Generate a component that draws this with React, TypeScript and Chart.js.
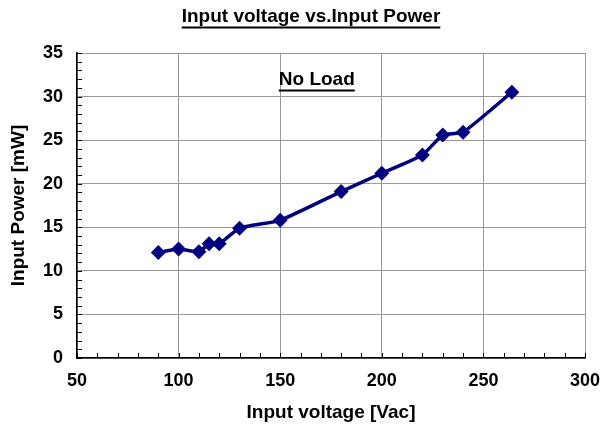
import React, { useEffect, useRef } from "react";
import { Chart, registerables } from "chart.js";

Chart.register(...registerables);

const chartTitle = "Input voltage vs.Input Power";
const annotationText = "No Load";
const xTitle = "Input voltage [Vac]";
const yTitle = "Input Power [mW]";
const voltages = [90, 100, 110, 115, 120, 130, 150, 180, 200, 220, 230, 240, 264];
const powers = [12.1, 12.5, 12.2, 13.1, 13.1, 14.9, 15.8, 19.1, 21.2, 23.3, 25.6, 25.9, 30.5];
const xMin = 50, xMax = 300, xStep = 50, xMinor = 10;
const yMin = 0, yMax = 35, yStep = 5, yMinor = 1;
const annX = 168, annY = 31.9;

const FONT = "'Liberation Sans', Arial, sans-serif";

const decorPlugin = {
  id: "decor",
  afterDraw(chart: any) {
    const ctx = chart.ctx;
    const xs = chart.scales.x;
    const ys = chart.scales.y;
    const area = chart.chartArea;
    ctx.save();
    ctx.strokeStyle = "#000";
    ctx.lineWidth = 1;
    ctx.beginPath();
    for (let v = xMin; v <= xMax; v += xMinor) {
      const px = Math.round(xs.getPixelForValue(v)) + 0.5;
      ctx.moveTo(px, area.bottom);
      ctx.lineTo(px, area.bottom - 5);
    }
    for (let v = yMin; v <= yMax; v += yMinor) {
      const py = Math.round(ys.getPixelForValue(v)) + 0.5;
      ctx.moveTo(area.left, py);
      ctx.lineTo(area.left + 5, py);
    }
    ctx.stroke();
    const drawUnderlined = (text: string, cx: number, cy: number, size: number) => {
      ctx.font = `bold ${size}px ${FONT}`;
      ctx.fillStyle = "#000";
      ctx.textAlign = "center";
      ctx.textBaseline = "middle";
      ctx.fillText(text, cx, cy);
      const w = ctx.measureText(text).width;
      ctx.fillRect(cx - w / 2, cy + size * 0.5, w, 2);
    };
    drawUnderlined(chartTitle, 311, 17, 19);
    drawUnderlined(annotationText, xs.getPixelForValue(annX), ys.getPixelForValue(annY), 19);
    ctx.restore();
  },
};

export default function App() {
  const ref = useRef<HTMLCanvasElement>(null);
  useEffect(() => {
    const chart = new Chart(ref.current!, {
      type: "line",
      data: {
        datasets: [
          {
            data: voltages.map((v, i) => ({ x: v, y: powers[i] })),
            borderColor: "#000080",
            backgroundColor: "#000080",
            borderWidth: 3.5,
            pointStyle: "rectRot",
            pointRadius: 5,
            pointHoverRadius: 5,
            tension: 0.15,
            fill: false,
          },
        ],
      },
      options: {
        animation: false,
        responsive: false,
        maintainAspectRatio: false,
        layout: { padding: { top: 53, right: 15, left: 0, bottom: 0 } },
        plugins: { legend: { display: false }, tooltip: { enabled: false }, title: { display: false } },
        scales: {
          x: {
            type: "linear",
            min: xMin,
            max: xMax,
            afterFit: (s: any) => { s.height = 71; s.paddingRight = 0; s.paddingLeft = 0; },
            ticks: { stepSize: xStep, color: "#000", font: { family: FONT, size: 18, weight: "bold" }, padding: 12 },
            grid: { color: "#999", drawTicks: false, lineWidth: 1 },
            border: { color: "#000", width: 1.5 },
            title: { display: true, text: xTitle, color: "#000", font: { family: FONT, size: 19, weight: "bold" }, padding: { top: 0, bottom: 5 } },
          },
          y: {
            type: "linear",
            min: yMin,
            max: yMax,
            afterFit: (s: any) => { s.width = 77; s.paddingTop = 0; s.paddingBottom = 0; },
            ticks: { stepSize: yStep, color: "#000", font: { family: FONT, size: 18, weight: "bold" }, padding: 14 },
            grid: { color: "#999", drawTicks: false, lineWidth: 1 },
            border: { color: "#000", width: 1.5 },
            title: { display: true, text: yTitle, color: "#000", font: { family: FONT, size: 19, weight: "bold" }, padding: { top: 7, bottom: 0 } },
          },
        },
      } as any,
      plugins: [decorPlugin],
    });
    return () => chart.destroy();
  }, []);
  return (
    <div style={{ position: "fixed", left: 0, top: 0, width: 600, height: 429, background: "#fff" }}>
      <canvas ref={ref} width={600} height={429} style={{ width: 600, height: 429 }} />
    </div>
  );
}
